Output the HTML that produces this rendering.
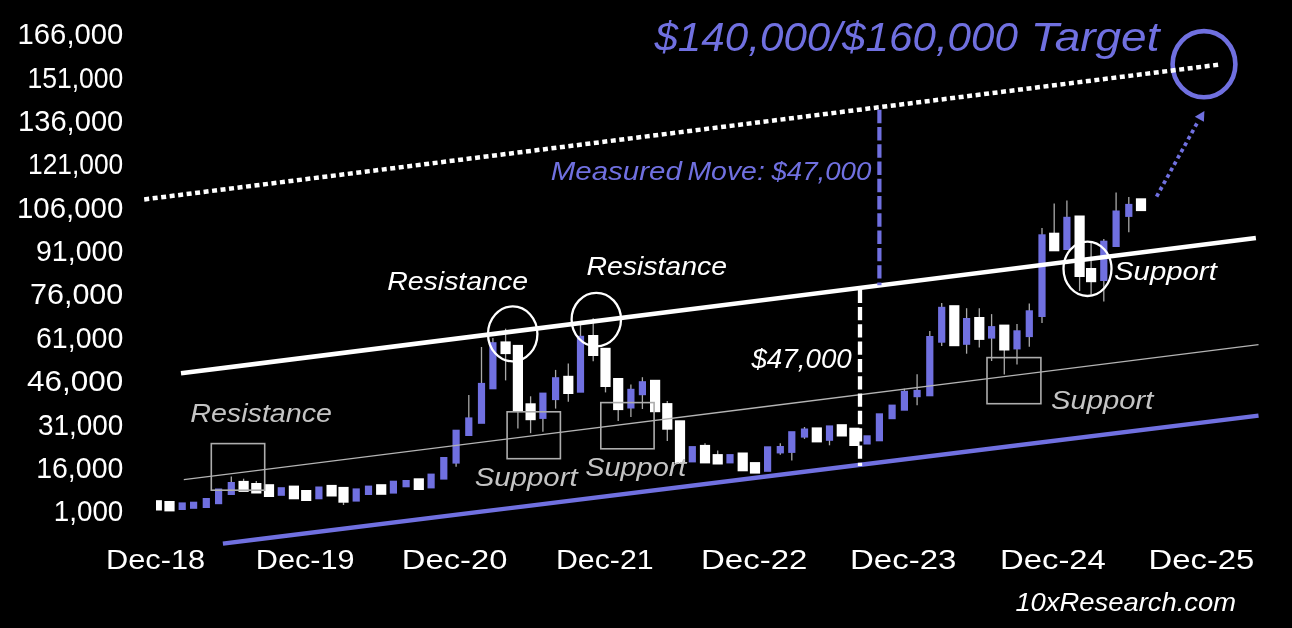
<!DOCTYPE html>
<html><head><meta charset="utf-8"><style>
html,body{margin:0;padding:0;background:#000;}
body{width:1292px;height:628px;overflow:hidden;}
svg{will-change:transform;display:block;font-family:"Liberation Sans",sans-serif;}
</style></head><body>
<svg width="1292" height="628" viewBox="0 0 1292 628">
<rect width="1292" height="628" fill="#000"/>
<g>
<text x="17.60" y="44.30" font-size="29.22" fill="#ffffff" textLength="105.71" lengthAdjust="spacingAndGlyphs">166,000</text>
<text x="27.40" y="87.66" font-size="29.22" fill="#ffffff" textLength="95.86" lengthAdjust="spacingAndGlyphs">151,000</text>
<text x="18.00" y="131.02" font-size="29.22" fill="#ffffff" textLength="105.30" lengthAdjust="spacingAndGlyphs">136,000</text>
<text x="28.00" y="174.38" font-size="29.22" fill="#ffffff" textLength="95.28" lengthAdjust="spacingAndGlyphs">121,000</text>
<text x="17.00" y="217.74" font-size="29.22" fill="#ffffff" textLength="106.30" lengthAdjust="spacingAndGlyphs">106,000</text>
<text x="36.00" y="261.10" font-size="29.22" fill="#ffffff" textLength="87.26" lengthAdjust="spacingAndGlyphs">91,000</text>
<text x="30.00" y="304.46" font-size="29.22" fill="#ffffff" textLength="93.28" lengthAdjust="spacingAndGlyphs">76,000</text>
<text x="36.00" y="347.82" font-size="29.22" fill="#ffffff" textLength="87.26" lengthAdjust="spacingAndGlyphs">61,000</text>
<text x="27.00" y="391.18" font-size="29.22" fill="#ffffff" textLength="96.23" lengthAdjust="spacingAndGlyphs">46,000</text>
<text x="38.00" y="434.54" font-size="29.22" fill="#ffffff" textLength="85.26" lengthAdjust="spacingAndGlyphs">31,000</text>
<text x="36.20" y="477.90" font-size="29.22" fill="#ffffff" textLength="87.13" lengthAdjust="spacingAndGlyphs">16,000</text>
<text x="53.80" y="521.26" font-size="29.22" fill="#ffffff" textLength="69.52" lengthAdjust="spacingAndGlyphs">1,000</text>
</g>
<g>
<text x="106.00" y="568.80" font-size="28.34" fill="#ffffff" textLength="99.10" lengthAdjust="spacingAndGlyphs">Dec-18</text>
<text x="255.80" y="568.80" font-size="28.34" fill="#ffffff" textLength="98.72" lengthAdjust="spacingAndGlyphs">Dec-19</text>
<text x="401.80" y="568.80" font-size="28.34" fill="#ffffff" textLength="105.55" lengthAdjust="spacingAndGlyphs">Dec-20</text>
<text x="556.00" y="568.80" font-size="28.34" fill="#ffffff" textLength="97.56" lengthAdjust="spacingAndGlyphs">Dec-21</text>
<text x="701.00" y="568.80" font-size="28.34" fill="#ffffff" textLength="106.33" lengthAdjust="spacingAndGlyphs">Dec-22</text>
<text x="850.00" y="568.80" font-size="28.34" fill="#ffffff" textLength="106.33" lengthAdjust="spacingAndGlyphs">Dec-23</text>
<text x="1000.00" y="568.80" font-size="28.34" fill="#ffffff" textLength="105.86" lengthAdjust="spacingAndGlyphs">Dec-24</text>
<text x="1148.60" y="568.80" font-size="28.34" fill="#ffffff" textLength="105.76" lengthAdjust="spacingAndGlyphs">Dec-25</text>
</g>
<g stroke="#a9a9a9" stroke-width="1.3">
<line x1="231.3" y1="476.6" x2="231.3" y2="483.0"/>
<line x1="243.6" y1="478.7" x2="243.6" y2="481.9"/>
<line x1="256.3" y1="481.0" x2="256.3" y2="484.0"/>
<line x1="343.5" y1="501.7" x2="343.5" y2="505.0"/>
<line x1="456.1" y1="462.6" x2="456.1" y2="466.8"/>
<line x1="468.8" y1="395.1" x2="468.8" y2="418.4"/>
<line x1="481.5" y1="347.0" x2="481.5" y2="383.9"/>
<line x1="492.9" y1="337.9" x2="492.9" y2="343.2"/>
<line x1="505.6" y1="328.7" x2="505.6" y2="342.4"/>
<line x1="505.6" y1="353.1" x2="505.6" y2="380.4"/>
<line x1="517.9" y1="410.8" x2="517.9" y2="428.5"/>
<line x1="530.6" y1="396.3" x2="530.6" y2="404.3"/>
<line x1="530.6" y1="419.2" x2="530.6" y2="433.2"/>
<line x1="542.9" y1="417.9" x2="542.9" y2="431.7"/>
<line x1="555.6" y1="369.9" x2="555.6" y2="378.2"/>
<line x1="555.6" y1="399.1" x2="555.6" y2="408.6"/>
<line x1="568.3" y1="363.5" x2="568.3" y2="376.8"/>
<line x1="568.3" y1="393.0" x2="568.3" y2="401.7"/>
<line x1="580.5" y1="324.7" x2="580.5" y2="336.8"/>
<line x1="593.2" y1="318.3" x2="593.2" y2="336.0"/>
<line x1="593.2" y1="355.0" x2="593.2" y2="361.3"/>
<line x1="605.5" y1="386.0" x2="605.5" y2="392.4"/>
<line x1="618.2" y1="409.1" x2="618.2" y2="421.0"/>
<line x1="630.9" y1="384.5" x2="630.9" y2="389.8"/>
<line x1="630.9" y1="407.5" x2="630.9" y2="417.0"/>
<line x1="642.4" y1="377.2" x2="642.4" y2="382.2"/>
<line x1="642.4" y1="394.2" x2="642.4" y2="409.0"/>
<line x1="667.3" y1="401.0" x2="667.3" y2="404.1"/>
<line x1="667.3" y1="428.7" x2="667.3" y2="440.9"/>
<line x1="705.0" y1="443.3" x2="705.0" y2="445.9"/>
<line x1="717.7" y1="450.6" x2="717.7" y2="455.1"/>
<line x1="780.3" y1="443.3" x2="780.3" y2="447.0"/>
<line x1="780.3" y1="452.4" x2="780.3" y2="454.8"/>
<line x1="791.8" y1="451.9" x2="791.8" y2="460.4"/>
<line x1="804.5" y1="427.0" x2="804.5" y2="429.5"/>
<line x1="804.5" y1="436.6" x2="804.5" y2="438.9"/>
<line x1="829.5" y1="439.8" x2="829.5" y2="445.3"/>
<line x1="904.4" y1="388.7" x2="904.4" y2="391.8"/>
<line x1="917.1" y1="374.3" x2="917.1" y2="390.9"/>
<line x1="917.1" y1="396.2" x2="917.1" y2="405.2"/>
<line x1="929.8" y1="331.0" x2="929.8" y2="337.0"/>
<line x1="941.7" y1="302.9" x2="941.7" y2="307.8"/>
<line x1="941.7" y1="341.7" x2="941.7" y2="346.0"/>
<line x1="966.6" y1="308.2" x2="966.6" y2="319.0"/>
<line x1="966.6" y1="343.8" x2="966.6" y2="353.7"/>
<line x1="979.3" y1="308.2" x2="979.3" y2="318.0"/>
<line x1="979.3" y1="338.9" x2="979.3" y2="347.5"/>
<line x1="991.6" y1="314.1" x2="991.6" y2="327.1"/>
<line x1="991.6" y1="337.6" x2="991.6" y2="361.0"/>
<line x1="1004.3" y1="349.5" x2="1004.3" y2="374.4"/>
<line x1="1017.0" y1="324.0" x2="1017.0" y2="331.3"/>
<line x1="1017.0" y1="348.4" x2="1017.0" y2="364.5"/>
<line x1="1029.3" y1="303.6" x2="1029.3" y2="311.3"/>
<line x1="1029.3" y1="336.1" x2="1029.3" y2="346.7"/>
<line x1="1042.0" y1="227.9" x2="1042.0" y2="235.3"/>
<line x1="1042.0" y1="316.0" x2="1042.0" y2="323.0"/>
<line x1="1054.2" y1="203.5" x2="1054.2" y2="233.7"/>
<line x1="1066.9" y1="200.4" x2="1066.9" y2="217.8"/>
<line x1="1079.6" y1="276.0" x2="1079.6" y2="290.9"/>
<line x1="1091.1" y1="242.0" x2="1091.1" y2="269.0"/>
<line x1="1091.1" y1="281.2" x2="1091.1" y2="294.5"/>
<line x1="1103.8" y1="239.0" x2="1103.8" y2="241.7"/>
<line x1="1103.8" y1="280.0" x2="1103.8" y2="301.5"/>
<line x1="1116.1" y1="192.4" x2="1116.1" y2="211.5"/>
<line x1="1128.8" y1="197.1" x2="1128.8" y2="204.9"/>
<line x1="1128.8" y1="215.9" x2="1128.8" y2="232.2"/>
</g>
<g>
<rect x="156.0" y="500.2" width="5.9" height="10.3" fill="#ffffff"/>
<rect x="164.4" y="501.0" width="10.2" height="10.4" fill="#ffffff"/>
<rect x="178.6" y="502.4" width="7.2" height="7.6" fill="#7070e0"/>
<rect x="190.0" y="501.7" width="7.2" height="7.1" fill="#7070e0"/>
<rect x="202.7" y="498.0" width="7.2" height="10.0" fill="#7070e0"/>
<rect x="215.0" y="488.5" width="7.2" height="15.7" fill="#7070e0"/>
<rect x="227.7" y="482.0" width="7.2" height="13.0" fill="#7070e0"/>
<rect x="238.5" y="480.9" width="10.2" height="11.0" fill="#ffffff"/>
<rect x="251.2" y="483.0" width="10.2" height="10.5" fill="#ffffff"/>
<rect x="263.9" y="484.2" width="10.2" height="12.8" fill="#ffffff"/>
<rect x="277.7" y="487.2" width="7.2" height="8.6" fill="#7070e0"/>
<rect x="288.8" y="485.6" width="10.2" height="13.7" fill="#ffffff"/>
<rect x="301.1" y="490.0" width="10.2" height="11.0" fill="#ffffff"/>
<rect x="315.3" y="486.5" width="7.2" height="12.8" fill="#7070e0"/>
<rect x="326.5" y="484.9" width="10.2" height="11.6" fill="#ffffff"/>
<rect x="338.4" y="486.9" width="10.2" height="15.8" fill="#ffffff"/>
<rect x="352.6" y="488.4" width="7.2" height="13.2" fill="#7070e0"/>
<rect x="364.9" y="485.6" width="7.2" height="9.4" fill="#7070e0"/>
<rect x="376.1" y="484.2" width="10.2" height="10.6" fill="#ffffff"/>
<rect x="389.8" y="480.7" width="7.2" height="12.9" fill="#7070e0"/>
<rect x="402.5" y="480.0" width="7.2" height="7.3" fill="#7070e0"/>
<rect x="413.7" y="478.3" width="10.2" height="11.7" fill="#ffffff"/>
<rect x="427.5" y="473.6" width="7.2" height="14.8" fill="#7070e0"/>
<rect x="440.2" y="457.0" width="7.2" height="22.6" fill="#7070e0"/>
<rect x="452.5" y="429.7" width="7.2" height="33.9" fill="#7070e0"/>
<rect x="465.2" y="417.4" width="7.2" height="18.6" fill="#7070e0"/>
<rect x="477.9" y="382.9" width="7.2" height="40.9" fill="#7070e0"/>
<rect x="489.3" y="342.2" width="7.2" height="47.1" fill="#7070e0"/>
<rect x="500.5" y="341.4" width="10.2" height="12.7" fill="#ffffff"/>
<rect x="512.8" y="344.9" width="10.2" height="66.9" fill="#ffffff"/>
<rect x="525.5" y="403.3" width="10.2" height="16.9" fill="#ffffff"/>
<rect x="539.3" y="392.6" width="7.2" height="26.3" fill="#7070e0"/>
<rect x="552.0" y="377.2" width="7.2" height="22.9" fill="#7070e0"/>
<rect x="563.2" y="375.8" width="10.2" height="18.2" fill="#ffffff"/>
<rect x="576.9" y="335.8" width="7.2" height="56.9" fill="#7070e0"/>
<rect x="588.1" y="335.0" width="10.2" height="21.0" fill="#ffffff"/>
<rect x="600.4" y="347.8" width="10.2" height="39.2" fill="#ffffff"/>
<rect x="613.1" y="378.0" width="10.2" height="32.1" fill="#ffffff"/>
<rect x="627.3" y="388.8" width="7.2" height="19.7" fill="#7070e0"/>
<rect x="638.8" y="381.2" width="7.2" height="14.0" fill="#7070e0"/>
<rect x="650.0" y="379.8" width="10.2" height="32.4" fill="#ffffff"/>
<rect x="662.2" y="403.1" width="10.2" height="26.6" fill="#ffffff"/>
<rect x="674.9" y="420.3" width="10.2" height="43.2" fill="#ffffff"/>
<rect x="688.7" y="446.1" width="7.2" height="16.3" fill="#7070e0"/>
<rect x="699.9" y="444.9" width="10.2" height="18.5" fill="#ffffff"/>
<rect x="712.6" y="454.1" width="10.2" height="10.4" fill="#ffffff"/>
<rect x="726.4" y="454.1" width="7.2" height="9.3" fill="#7070e0"/>
<rect x="737.6" y="452.5" width="10.2" height="18.8" fill="#ffffff"/>
<rect x="749.9" y="462.1" width="10.2" height="11.5" fill="#ffffff"/>
<rect x="764.0" y="446.3" width="7.2" height="25.5" fill="#7070e0"/>
<rect x="776.7" y="446.0" width="7.2" height="7.4" fill="#7070e0"/>
<rect x="788.2" y="431.2" width="7.2" height="21.7" fill="#7070e0"/>
<rect x="800.9" y="428.5" width="7.2" height="9.1" fill="#7070e0"/>
<rect x="811.7" y="427.4" width="10.2" height="15.0" fill="#ffffff"/>
<rect x="825.9" y="425.4" width="7.2" height="15.4" fill="#7070e0"/>
<rect x="836.7" y="424.2" width="10.2" height="12.3" fill="#ffffff"/>
<rect x="849.3" y="427.7" width="10.2" height="18.3" fill="#ffffff"/>
<rect x="863.5" y="435.3" width="7.2" height="9.2" fill="#7070e0"/>
<rect x="875.8" y="413.3" width="7.2" height="28.0" fill="#7070e0"/>
<rect x="888.5" y="404.6" width="7.2" height="14.6" fill="#7070e0"/>
<rect x="900.8" y="390.8" width="7.2" height="19.9" fill="#7070e0"/>
<rect x="913.5" y="389.9" width="7.2" height="7.3" fill="#7070e0"/>
<rect x="926.2" y="336.0" width="7.2" height="60.3" fill="#7070e0"/>
<rect x="938.1" y="306.8" width="7.2" height="35.9" fill="#7070e0"/>
<rect x="949.2" y="305.2" width="10.2" height="41.0" fill="#ffffff"/>
<rect x="963.0" y="318.0" width="7.2" height="26.8" fill="#7070e0"/>
<rect x="974.2" y="317.0" width="10.2" height="22.9" fill="#ffffff"/>
<rect x="988.0" y="326.1" width="7.2" height="12.5" fill="#7070e0"/>
<rect x="999.2" y="324.6" width="10.2" height="25.9" fill="#ffffff"/>
<rect x="1013.4" y="330.3" width="7.2" height="19.1" fill="#7070e0"/>
<rect x="1025.7" y="310.3" width="7.2" height="26.8" fill="#7070e0"/>
<rect x="1038.4" y="234.3" width="7.2" height="82.7" fill="#7070e0"/>
<rect x="1049.1" y="232.7" width="10.2" height="18.6" fill="#ffffff"/>
<rect x="1063.3" y="216.8" width="7.2" height="33.2" fill="#7070e0"/>
<rect x="1074.5" y="215.5" width="10.2" height="61.5" fill="#ffffff"/>
<rect x="1086.0" y="268.0" width="10.2" height="14.2" fill="#ffffff"/>
<rect x="1100.2" y="240.7" width="7.2" height="40.3" fill="#7070e0"/>
<rect x="1112.5" y="210.5" width="7.2" height="36.5" fill="#7070e0"/>
<rect x="1125.2" y="203.9" width="7.2" height="13.0" fill="#7070e0"/>
<rect x="1135.9" y="198.3" width="10.2" height="12.8" fill="#ffffff"/>
</g>
<!-- thin gray trend line -->
<line x1="183.8" y1="479.6" x2="1258.5" y2="344.7" stroke="#b4b4b4" stroke-width="1.3"/>
<!-- boxes -->
<g fill="none" stroke="#adadad" stroke-width="1.6">
<rect x="211.3" y="443.6" width="53.4" height="46.6"/>
<rect x="507.1" y="411.8" width="53.3" height="46.9"/>
<rect x="600.8" y="402.6" width="53.3" height="46.2"/>
<rect x="987" y="357.6" width="53.9" height="46.1"/>
</g>
<!-- support line -->
<line x1="222.9" y1="543.6" x2="1258.5" y2="415.6" stroke="#7070e0" stroke-width="4.4"/>
<!-- resistance line -->
<line x1="181" y1="373.3" x2="1255.9" y2="238" stroke="#ffffff" stroke-width="4.5"/>
<ellipse cx="1204" cy="64.2" rx="31.4" ry="33.1" fill="none" stroke="#7070e0" stroke-width="4.6"/>
<!-- dotted upper line -->
<line x1="144.2" y1="199.4" x2="1219.2" y2="64.6" stroke="#ffffff" stroke-width="4.5" stroke-dasharray="5 3.55"/>
<!-- vertical dashed -->
<line x1="860" y1="289.6" x2="860" y2="466" stroke="#ffffff" stroke-width="4.3" stroke-dasharray="13.3 4.02"/>
<line x1="879.4" y1="109.8" x2="879.4" y2="285.3" stroke="#7070e0" stroke-width="4.2" stroke-dasharray="13.4 3.86"/>
<!-- circles -->
<g fill="none" stroke="#ffffff" stroke-width="2.3">
<ellipse cx="512.7" cy="333.9" rx="24.7" ry="27.5"/>
<ellipse cx="596.3" cy="319.6" rx="24.7" ry="26.8"/>
<ellipse cx="1087.5" cy="268.8" rx="24" ry="27.2"/>
</g>
<!-- arrow -->
<line x1="1156.6" y1="196.6" x2="1196.9" y2="123.5" stroke="#7070e0" stroke-width="3.7" stroke-dasharray="3.7 3.555"/>
<polygon points="1204.4,110.9 1194.8,116.7 1203.9,121.7" fill="#7070e0"/>
<g>
<text x="654.40" y="51.00" font-size="40.12" fill="#7070e0" font-style="italic" textLength="363.60" lengthAdjust="spacingAndGlyphs">$140,000/$160,000</text>
<text x="1030.80" y="51.00" font-size="40.12" fill="#7070e0" font-style="italic" textLength="128.65" lengthAdjust="spacingAndGlyphs">Target</text>
<text x="550.80" y="179.70" font-size="25.87" fill="#7070e0" font-style="italic" textLength="131.01" lengthAdjust="spacingAndGlyphs">Measured</text>
<text x="687.40" y="179.70" font-size="25.87" fill="#7070e0" font-style="italic" textLength="77.45" lengthAdjust="spacingAndGlyphs">Move:</text>
<text x="771.40" y="179.70" font-size="25.87" fill="#7070e0" font-style="italic" textLength="100.01" lengthAdjust="spacingAndGlyphs">$47,000</text>
<text x="387.20" y="290.10" font-size="25.87" fill="#ffffff" font-style="italic" textLength="140.82" lengthAdjust="spacingAndGlyphs">Resistance</text>
<text x="586.40" y="275.20" font-size="25.00" fill="#ffffff" font-style="italic" textLength="140.62" lengthAdjust="spacingAndGlyphs">Resistance</text>
<text x="190.20" y="421.60" font-size="25.87" fill="#c4c4c4" font-style="italic" textLength="141.83" lengthAdjust="spacingAndGlyphs">Resistance</text>
<text x="474.80" y="486.10" font-size="26.45" fill="#c4c4c4" font-style="italic" textLength="102.81" lengthAdjust="spacingAndGlyphs">Support</text>
<text x="585.20" y="475.70" font-size="26.31" fill="#c4c4c4" font-style="italic" textLength="101.20" lengthAdjust="spacingAndGlyphs">Support</text>
<text x="1051.00" y="408.50" font-size="26.31" fill="#c4c4c4" font-style="italic" textLength="102.40" lengthAdjust="spacingAndGlyphs">Support</text>
<text x="1114.00" y="280.10" font-size="25.87" fill="#ffffff" font-style="italic" textLength="102.80" lengthAdjust="spacingAndGlyphs">Support</text>
<text x="751.40" y="367.70" font-size="27.03" fill="#ffffff" font-style="italic" textLength="100.41" lengthAdjust="spacingAndGlyphs">$47,000</text>
<text x="1015.40" y="610.60" font-size="26.31" fill="#ffffff" font-style="italic" textLength="220.62" lengthAdjust="spacingAndGlyphs">10xResearch.com</text>
</g>
</svg>
</body></html>
